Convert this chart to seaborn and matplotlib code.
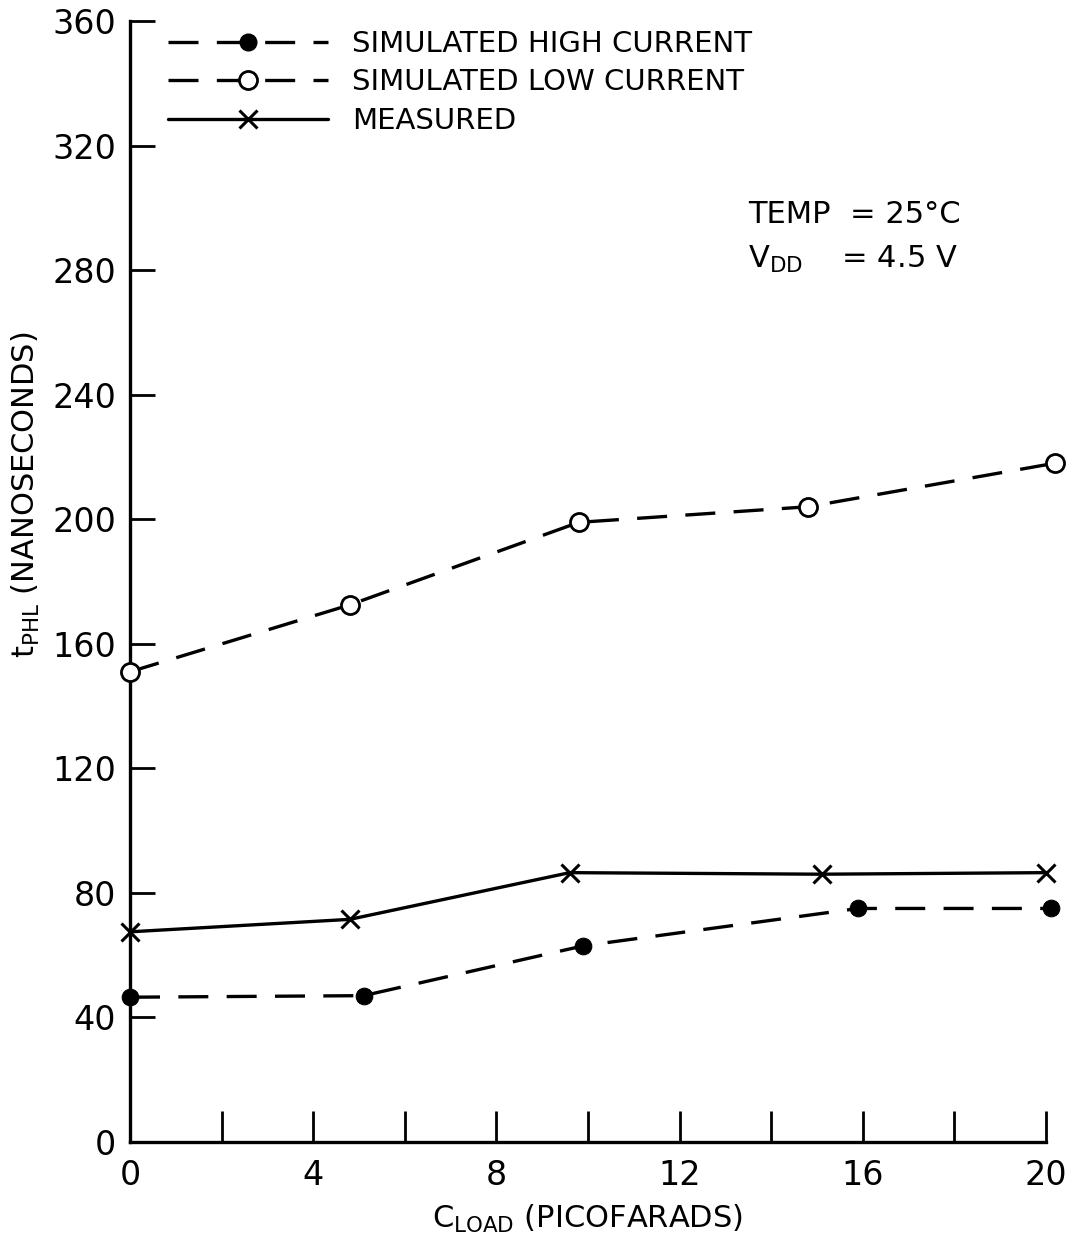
import matplotlib
matplotlib.use("Agg")
import matplotlib.pyplot as plt
import seaborn as sns
import pandas as pd
from matplotlib.lines import Line2D
from matplotlib.ticker import FixedLocator

# ---- data ----
cap_high = [0, 5.1, 9.9, 15.9, 20.1]
t_high = [46.5, 47.0, 63.0, 75.0, 75.0]

cap_low = [0, 4.8, 9.8, 14.8, 20.2]
t_low = [151.0, 172.5, 199.0, 204.0, 218.0]

cap_meas = [0, 4.8, 9.6, 15.1, 20.0]
t_meas = [67.5, 71.5, 86.5, 86.0, 86.5]

x_major = [0, 4, 8, 12, 16, 20]
x_minor = [2, 6, 10, 14, 18]
y_ticks = [0, 40, 80, 120, 160, 200, 240, 280, 320, 360]

labels = ["SIMULATED HIGH CURRENT", "SIMULATED LOW CURRENT", "MEASURED"]

sns.set_style("ticks")
plt.rcParams["font.family"] = ["DejaVu Sans"]
plt.rcParams["mathtext.default"] = "regular"
for k in ["text.color", "axes.labelcolor", "xtick.color", "ytick.color",
          "axes.edgecolor"]:
    plt.rcParams[k] = "black"

fig = plt.figure(figsize=(10.76, 12.39), dpi=100)
ax = fig.add_axes([130 / 1076, 1 - 1142 / 1239, 916 / 1076, 1121 / 1239])

dash = (0, (9.0, 5.5))
lw = 2.4

df_high = pd.DataFrame({"c": cap_high, "t": t_high})
df_low = pd.DataFrame({"c": cap_low, "t": t_low})
df_meas = pd.DataFrame({"c": cap_meas, "t": t_meas})

sns.lineplot(data=df_high, x="c", y="t", ax=ax, color="black", lw=lw,
             linestyle=dash, marker="o", markersize=12,
             markerfacecolor="black", markeredgecolor="black",
             clip_on=False, zorder=3)
sns.lineplot(data=df_low, x="c", y="t", ax=ax, color="black", lw=lw,
             linestyle=dash, marker="o", markersize=13,
             markerfacecolor="white", markeredgecolor="black",
             markeredgewidth=2.0, clip_on=False, zorder=3)
sns.lineplot(data=df_meas, x="c", y="t", ax=ax, color="black", lw=lw,
             linestyle="-", marker="x", markersize=13,
             markeredgecolor="black", markeredgewidth=2.2,
             clip_on=False, zorder=3)

ax.set_xlim(0, 20)
ax.set_ylim(0, 360)
sns.despine(ax=ax)
ax.spines["left"].set_linewidth(2.4)
ax.spines["bottom"].set_linewidth(2.4)

ax.xaxis.set_major_locator(FixedLocator(x_major))
ax.xaxis.set_minor_locator(FixedLocator(x_minor))
ax.set_xticklabels([str(v) for v in x_major])
ax.set_yticks(y_ticks)
ax.set_yticklabels([str(v) for v in y_ticks])

ax.tick_params(axis="x", which="both", direction="in", length=22, width=2.0,
               labelsize=24, pad=12)
ax.tick_params(axis="y", which="both", direction="in", length=18, width=2.0,
               labelsize=24, pad=10)

ax.set_xlabel("C$_{LOAD}$ (PICOFARADS)", fontsize=22, labelpad=8)
ax.set_ylabel("t$_{PHL}$ (NANOSECONDS)", fontsize=22)
ax.yaxis.set_label_coords(-(130 - 42) / 916, (1142 - 495) / 1121)

ax.text(13.5, 298, "TEMP  = 25\u00b0C", fontsize=22, va="center", ha="left")
ax.text(13.5, 283.5, "V$_{DD}$    = 4.5 V", fontsize=22, va="center", ha="left")

handles = [
    Line2D([], [], color="black", lw=lw, linestyle=dash, marker="o",
           markersize=12, markerfacecolor="black"),
    Line2D([], [], color="black", lw=lw, linestyle=dash, marker="o",
           markersize=13, markerfacecolor="white", markeredgewidth=2.0),
    Line2D([], [], color="black", lw=lw, linestyle="-", marker="x",
           markersize=13, markeredgewidth=2.2),
]
ax.legend(handles, labels, loc="upper left", frameon=False, fontsize=21,
          handlelength=5.5, handletextpad=0.8, labelspacing=0.36,
          borderaxespad=0, borderpad=0,
          bbox_to_anchor=(38 / 916, 1 - 9 / 1121))

fig.savefig("out.png", dpi=100)
